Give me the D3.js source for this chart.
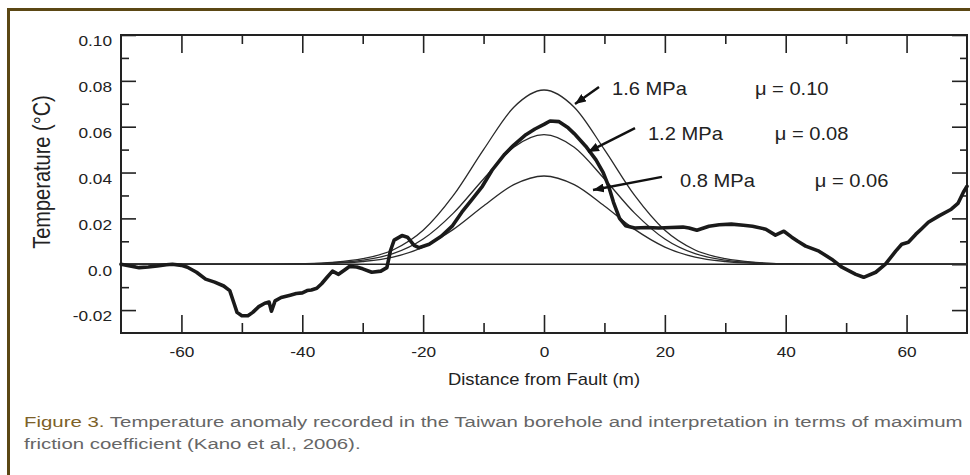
<!DOCTYPE html>
<html><head><meta charset="utf-8">
<script src="https://cdn.jsdelivr.net/npm/d3@7"></script>
<style>body{margin:0;background:#fff}svg{display:block}</style>
</head><body>
<script>
// ---------- data ----------
const xMajorTicks = [-60,-40,-20,0,20,40,60];
const xMinorTicks = [-50,-30,-10,10,30,50];
const yMajorTicks = [0.10,0.08,0.06,0.04,0.02,0.0,-0.02];
const yMajorLabels = ["0.10","0.08","0.06","0.04","0.02","0.0","-0.02"];
const yMinorTicks = [0.09,0.07,0.05,0.03,0.01,-0.01];

const modelX    = [-70,-45,-40,-35,-30,-25,-20,-15,-10,-5,0,5,10,15,20,25,30,35,40,45,70];
const model16   = [0,0,0.0002,0.0008,0.0024,0.0062,0.0148,0.030,0.050,0.0685,0.076,0.0685,0.050,0.030,0.0148,0.0062,0.0024,0.0008,0.0002,0,0];
const model12   = [0,0,0.00015,0.0006,0.0018,0.0046,0.011,0.0223,0.0372,0.051,0.0565,0.051,0.0372,0.0223,0.011,0.0046,0.0018,0.0006,0.00015,0,0];
const model08   = [0,0,0.0001,0.0004,0.0012,0.0031,0.0075,0.0152,0.0254,0.0347,0.0385,0.0347,0.0254,0.0152,0.0075,0.0031,0.0012,0.0004,0.0001,0,0];

const obsX = [-70,-68.5,-67,-65.5,-64,-62.5,-61.5,-60,-59,-57.5,-56,-54.5,-53,-52,-51.3,-50.8,-50,-49,-48.2,-47.2,-46.2,-45.5,-45.1,-44.5,-43.5,-42,-41,-40,-39.2,-38.5,-37.6,-36.8,-36,-35,-34,-33,-32.2,-31,-30,-28.5,-27,-26,-25.4,-24.8,-23.5,-22.6,-21.5,-20.7,-19,-17,-15.2,-13.6,-12,-10.2,-8.6,-6.5,-5,-3,-1.5,0,1,2.5,4,5,6.9,8.6,9.8,10.7,11.5,12.5,13.5,15,17,19,21,23,24,25.3,27.3,29,31,33,34.5,36.7,38.3,39.7,41,42,43.3,45.5,47.6,49.3,51.6,52.9,54.9,56.5,58.2,59.2,60.3,61.5,62.5,63.6,65.3,67.4,68.5,69.4,70];
const obsT = [0,-0.0008,-0.0015,-0.0012,-0.0008,-0.0002,0,-0.0005,-0.0013,-0.0035,-0.0065,-0.0078,-0.0095,-0.0115,-0.017,-0.021,-0.0225,-0.0225,-0.021,-0.0185,-0.017,-0.0165,-0.0205,-0.016,-0.0145,-0.0135,-0.0128,-0.0125,-0.0115,-0.0112,-0.0105,-0.0085,-0.006,-0.003,-0.0044,-0.0025,-0.001,-0.0012,-0.002,-0.0035,-0.003,-0.0015,0.006,0.0105,0.0125,0.0118,0.0082,0.0072,0.0087,0.0122,0.0166,0.0227,0.028,0.034,0.041,0.048,0.052,0.0565,0.059,0.061,0.0625,0.0622,0.0595,0.057,0.0515,0.0455,0.040,0.034,0.027,0.020,0.0168,0.0158,0.016,0.0158,0.016,0.0162,0.0158,0.0148,0.0166,0.0172,0.0175,0.017,0.0166,0.0153,0.0127,0.0144,0.0118,0.010,0.0079,0.0057,0.0022,-0.0013,-0.0044,-0.0057,-0.0035,0,0.0057,0.0087,0.0096,0.013,0.0155,0.0183,0.021,0.024,0.0265,0.0314,0.034];

const annLabels = ["1.6 MPa","1.2 MPa","0.8 MPa"];
const annMu     = ["μ = 0.10","μ = 0.08","μ = 0.06"];
const annLabelX = [11.25,17.2,22.5];
const annMuX    = [34.9,38.2,44.8];
const annBaseT  = [0.0738,0.0542,0.0337];
const arrowTail = [[9.1,0.0773],[15.06,0.0594],[19.53,0.0381]];
const arrowTip  = [[5.13,0.0699],[7.28,0.0490],[8.11,0.0324]];

const xTitle = "Distance from Fault (m)";
const yTitle = "Temperature (°C)";
const captionHead = "Figure 3.";
const captionLine1 = " Temperature anomaly recorded in the Taiwan borehole and interpretation in terms of maximum";
const captionLine2 = "friction coefficient (Kano et al., 2006).";

// ---------- drawing ----------
const W = 970, H = 475, SX = 1.15;
const FONT = "'Liberation Sans', Arial, Helvetica, sans-serif";
const svg = d3.select("body").append("svg").attr("width", W).attr("height", H)
  .style("font-family", FONT);

// frame border
svg.append("path").attr("d", "M8.5,475 V9.5 H970").attr("fill","none")
  .attr("stroke","#5b4714").attr("stroke-width",3);

const x = d3.scaleLinear().domain([-70,70]).range([121,967]);
const y = d3.scaleLinear().domain([-0.03,0.10]).range([333,35]);

const axCol = "#222";
function styleAxis(g){
  g.select(".domain").remove();
  g.selectAll("line").attr("stroke", axCol).attr("stroke-width", 1.6);
}
// bottom
svg.append("g").attr("transform","translate(0,333)")
  .call(d3.axisBottom(x).tickValues(xMajorTicks).tickSize(-18).tickPadding(13).tickFormat(d=>String(d)))
  .call(styleAxis)
  .call(g=>g.selectAll("text").attr("font-size",15).attr("fill","#222").attr("font-family",FONT)
      .attr("transform",`scale(${SX},1)`));
svg.append("g").attr("transform","translate(0,333)")
  .call(d3.axisBottom(x).tickValues(xMinorTicks).tickSize(-10).tickFormat(""))
  .call(styleAxis);
// top
svg.append("g").attr("transform","translate(0,35)")
  .call(d3.axisTop(x).tickValues(xMajorTicks).tickSize(-18).tickFormat(""))
  .call(styleAxis);
svg.append("g").attr("transform","translate(0,35)")
  .call(d3.axisTop(x).tickValues(xMinorTicks).tickSize(-9).tickFormat(""))
  .call(styleAxis);
// left
svg.append("g").attr("transform","translate(121,0)")
  .call(d3.axisLeft(y).tickValues(yMajorTicks).tickSize(-15).tickPadding(9)
        .tickFormat((d,i)=>yMajorLabels[i]))
  .call(styleAxis)
  .call(g=>g.selectAll("text").attr("font-size",15).attr("fill","#222").attr("font-family",FONT)
      .attr("x",-9/SX).attr("y",6).attr("transform",`scale(${SX},1)`));
svg.append("g").attr("transform","translate(121,0)")
  .call(d3.axisLeft(y).tickValues(yMinorTicks).tickSize(-8).tickFormat(""))
  .call(styleAxis);
// right
svg.append("g").attr("transform","translate(967,0)")
  .call(d3.axisRight(y).tickValues(yMajorTicks).tickSize(-15).tickFormat(""))
  .call(styleAxis);
svg.append("g").attr("transform","translate(967,0)")
  .call(d3.axisRight(y).tickValues(yMinorTicks).tickSize(-7).tickFormat(""))
  .call(styleAxis);

// plot frame
svg.append("rect").attr("x",x(-70)).attr("y",y(0.10))
  .attr("width",x(70)-x(-70)).attr("height",y(-0.03)-y(0.10))
  .attr("fill","none").attr("stroke",axCol).attr("stroke-width",2);

// zero line
svg.append("line").attr("x1",x(-70)).attr("x2",x(70)).attr("y1",y(0)).attr("y2",y(0))
  .attr("stroke","#222").attr("stroke-width",1.4);

// model curves
const mline = d3.line().x((d,i)=>x(modelX[i])).y(d=>y(d)).curve(d3.curveMonotoneX);
[model16, model12, model08].forEach(m=>{
  svg.append("path").attr("d", mline(m)).attr("fill","none")
    .attr("stroke","#2a2a2a").attr("stroke-width",1.3);
});

// observed
const oline = d3.line().x((d,i)=>x(obsX[i])).y(d=>y(d));
svg.append("path").attr("d", oline(obsT)).attr("fill","none")
  .attr("stroke","#1a1a1a").attr("stroke-width",3.6)
  .attr("stroke-linejoin","round").attr("stroke-linecap","round");

// arrows
svg.append("defs").append("marker").attr("id","ah")
  .attr("markerUnits","userSpaceOnUse").attr("markerWidth",12).attr("markerHeight",9)
  .attr("refX",11).attr("refY",4.5).attr("orient","auto")
  .append("path").attr("d","M0,0 L11,4.5 L0,9 Z").attr("fill","#111");
arrowTail.forEach((t,i)=>{
  svg.append("line").attr("x1",x(t[0])).attr("y1",y(t[1]))
    .attr("x2",x(arrowTip[i][0])).attr("y2",y(arrowTip[i][1]))
    .attr("stroke","#111").attr("stroke-width",2.4).attr("marker-end","url(#ah)");
});

function txt(str, px, py, size, opts={}){
  const t = svg.append("text")
    .attr("transform",`translate(${px},${py}) scale(${SX},1)`)
    .attr("font-size",size).attr("fill",opts.fill||"#222")
    .attr("text-anchor",opts.anchor||"start").text(str);
  return t;
}
annLabels.forEach((s,i)=>{
  txt(s, x(annLabelX[i]), y(annBaseT[i]), 17.5);
  txt(annMu[i], x(annMuX[i]), y(annBaseT[i]), 17.5);
});

// axis titles
txt(xTitle, x(0), 385, 16, {anchor:"middle"});
svg.append("text").attr("transform",`translate(50,172) rotate(-90) scale(1,${SX})`)
  .attr("font-size",20).attr("fill","#222").attr("text-anchor","middle").text(yTitle);

// caption
const cap = svg.append("g").attr("transform","translate(24,0)");
const c1 = cap.append("text").attr("y",427).attr("font-size",15).attr("fill","#666");
c1.append("tspan").attr("fill","#7d6128").text(captionHead);
c1.append("tspan").text(captionLine1);
const c2 = cap.append("text").attr("y",449).attr("font-size",15).attr("fill","#666").text(captionLine2);
const w1 = c1.node().getComputedTextLength();
const sc = 939 / w1;
cap.attr("transform",`translate(24,0) scale(${sc},1)`);
</script>
</body></html>
